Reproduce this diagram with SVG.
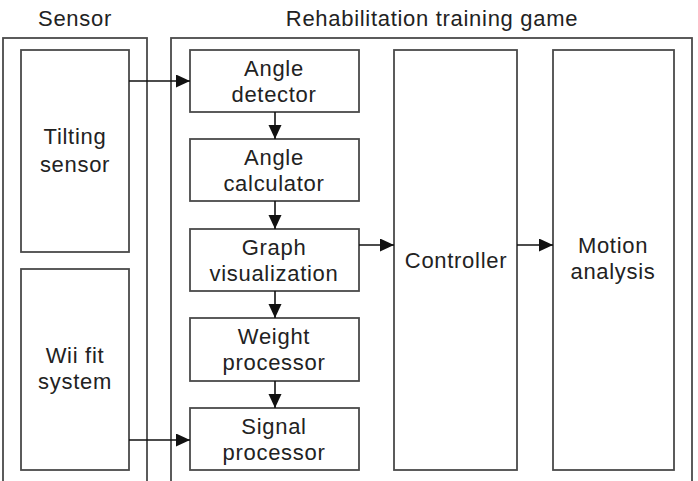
<svg xmlns="http://www.w3.org/2000/svg" width="698" height="481" viewBox="0 0 698 481">
<style>
.box{fill:#fff;stroke:#4a4a4a;stroke-width:1.8}
.t{font-family:"Liberation Sans",Arial,sans-serif;font-size:22px;letter-spacing:0.7px;fill:#222;text-anchor:middle}
.c{stroke:#111;stroke-width:1.6;fill:none}
</style>
<defs>
<marker id="ah" markerUnits="userSpaceOnUse" markerWidth="14" markerHeight="14" refX="14" refY="6.5" orient="auto">
<path d="M0,0 L14,6.5 L0,13 Z" fill="#111"/>
</marker>
</defs>
<rect width="698" height="481" fill="#fff"/>
<text class="t" x="75" y="26">Sensor</text>
<text class="t" x="432" y="26">Rehabilitation training game</text>
<g id="sensor-group"><rect class="box" x="3" y="38" width="144" height="460"/></g>
<g id="game-group"><rect class="box" x="171" y="38" width="521" height="460"/></g>
<g id="tilting"><rect class="box" x="21" y="50" width="108" height="202"/>
<text class="t" x="75" y="144">Tilting</text><text class="t" x="75" y="172">sensor</text></g>
<g id="wii"><rect class="box" x="21" y="269" width="108" height="201"/>
<text class="t" x="75" y="363">Wii fit</text><text class="t" x="75" y="389">system</text></g>
<g id="angle-detector"><rect class="box" x="190" y="50" width="169" height="62"/>
<text class="t" x="274" y="76">Angle</text><text class="t" x="274" y="102">detector</text></g>
<g id="angle-calculator"><rect class="box" x="190" y="139" width="169" height="62"/>
<text class="t" x="274" y="165">Angle</text><text class="t" x="274" y="191">calculator</text></g>
<g id="graph"><rect class="box" x="190" y="229" width="169" height="62"/>
<text class="t" x="274" y="255">Graph</text><text class="t" x="274" y="281">visualization</text></g>
<g id="weight"><rect class="box" x="190" y="318" width="169" height="63"/>
<text class="t" x="274" y="344">Weight</text><text class="t" x="274" y="370">processor</text></g>
<g id="signal"><rect class="box" x="190" y="408" width="169" height="62"/>
<text class="t" x="274" y="434">Signal</text><text class="t" x="274" y="460">processor</text></g>
<g id="controller"><rect class="box" x="394" y="50" width="123" height="420"/>
<text class="t" x="456" y="268">Controller</text></g>
<g id="motion"><rect class="box" x="553" y="50" width="121" height="420"/>
<text class="t" x="613" y="253">Motion</text><text class="t" x="613" y="279">analysis</text></g>
<g id="connectors">
<line class="c" x1="129" y1="81" x2="190" y2="81" marker-end="url(#ah)"/>
<line class="c" x1="129" y1="440" x2="190" y2="440" marker-end="url(#ah)"/>
<line class="c" x1="275" y1="112" x2="275" y2="139" marker-end="url(#ah)"/>
<line class="c" x1="275" y1="201" x2="275" y2="229" marker-end="url(#ah)"/>
<line class="c" x1="275" y1="291" x2="275" y2="318" marker-end="url(#ah)"/>
<line class="c" x1="275" y1="381" x2="275" y2="408" marker-end="url(#ah)"/>
<line class="c" x1="359" y1="245" x2="394" y2="245" marker-end="url(#ah)"/>
<line class="c" x1="517" y1="245" x2="553" y2="245" marker-end="url(#ah)"/>
</g>
</svg>
